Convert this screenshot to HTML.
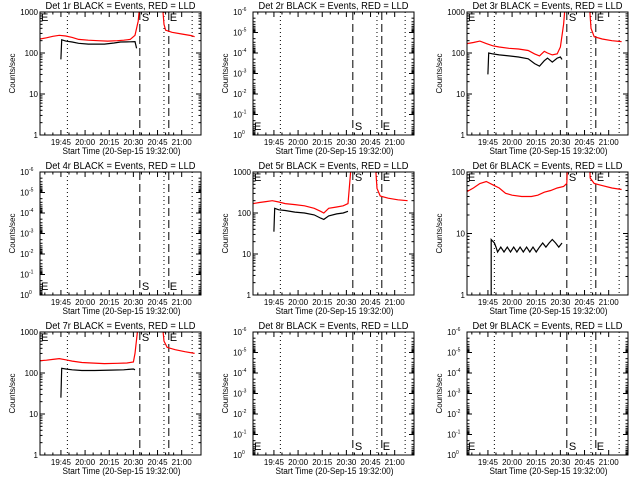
<!DOCTYPE html>
<html><head><meta charset="utf-8">
<style>
html,body{margin:0;padding:0;background:#fff;}
svg{display:block;font-family:"Liberation Sans",sans-serif;}
</style></head>
<body>
<svg id="c" width="640" height="480" viewBox="0 0 640 480"></svg>
<script>
// Data (minutes since 19:32, counts/sec)
const titles=["Det 1r BLACK = Events, RED = LLD","Det 2r BLACK = Events, RED = LLD","Det 3r BLACK = Events, RED = LLD","Det 4r BLACK = Events, RED = LLD","Det 5r BLACK = Events, RED = LLD","Det 6r BLACK = Events, RED = LLD","Det 7r BLACK = Events, RED = LLD","Det 8r BLACK = Events, RED = LLD","Det 9r BLACK = Events, RED = LLD"];
const xTickLabels=["19:45","20:00","20:15","20:30","20:45","21:00"];
const xTickMinutes=[13,28,43,58,73,88];
const xTitle="Start Time (20-Sep-15 19:32:00)";
const yTicksFull=[1,10,100,1000];
const yLabelsFull=["1","10","100","1000"];
const yTicks6=[1,10,100];
const yLabels6=["1","10","100"];
const yTicksEmpty=[1e-6,1e-5,1e-4,1e-3,1e-2,1e-1,1];
const yLabelsEmpty=["-6","-5","-4","-3","-2","-1","0"];
const dottedMinutes=[17,77,94.5];
const dashedMinutes=[62,80];
const red1=[[0,220],[4,235],[8,255],[12,270],[16,260],[20,240],[24,215],[30,205],[36,200],[42,195],[48,200],[52,205],[56,215],[59,270],[61,600],[62,1500],[76,1500],[77,500],[78,360],[82,320],[88,290],[94,265],[96,250]];
const black1=[[13,70],[13.5,210],[16,195],[20,185],[24,172],[30,165],[40,165],[46,175],[50,185],[56,188],[59,190],[60,130]];
const red3=[[0,170],[4,180],[8,195],[12,170],[16,150],[20,140],[26,130],[32,125],[38,115],[42,95],[45,85],[48,110],[50,100],[53,90],[56,95],[58,140],[60,500],[61,1500],[76,1500],[77,400],[79,250],[84,220],[90,200],[96,190]];
const black3=[[13,30],[13.5,100],[16,95],[20,90],[26,85],[32,80],[38,72],[42,55],[45,48],[48,65],[50,75],[53,60],[56,75],[58,80],[59,70]];
const red5=[[0,170],[4,180],[8,190],[12,200],[16,185],[20,170],[26,160],[32,150],[38,130],[42,110],[44,100],[47,130],[52,140],[56,150],[59,170],[60,500],[61,1500],[76,1500],[77,400],[79,260],[84,230],[90,210],[96,200]];
const black5=[[13,35],[13.5,130],[16,120],[20,115],[26,105],[32,100],[38,90],[42,75],[44,70],[47,85],[52,95],[56,100],[59,110]];
const red6=[[0,48],[4,55],[8,65],[12,70],[16,62],[20,55],[24,45],[28,42],[34,40],[40,40],[44,42],[48,47],[52,50],[56,55],[60,58],[62,65],[62.5,150],[76,150],[76.5,80],[79,65],[84,60],[90,55],[96,52]];
const black6=[[15,1],[15,8],[17,7],[18,6],[19,5],[21,6],[23,5],[25,6],[27,5],[29,6],[31,5],[33,6],[35,5],[37,6],[39,5],[41,6],[43,5],[45,6],[47,7],[49,6],[51,7],[53,8],[55,7],[57,6],[59,7]];
const red7=[[0,200],[4,205],[8,215],[12,225],[16,210],[20,195],[26,180],[32,175],[40,170],[48,172],[54,175],[58,185],[59,300],[61,1500],[76,1500],[77,600],[79,420],[84,370],[90,330],[96,300]];
const black7=[[13,25],[13.5,130],[16,125],[20,120],[26,115],[34,115],[44,118],[52,120],[58,125],[59,120]];

const panels=[
 {red:red1,black:black1,type:"full"},{red:null,black:null,type:"empty"},{red:red3,black:black3,type:"full"},
 {red:null,black:null,type:"empty"},{red:red5,black:black5,type:"full"},{red:red6,black:black6,type:"six"},
 {red:red7,black:black7,type:"full"},{red:null,black:null,type:"empty"},{red:null,black:null,type:"empty"}];

const NS="http://www.w3.org/2000/svg";
const svg=document.getElementById('c');
function mk(tag,attrs,parent){const e=document.createElementNS(NS,tag);for(const k in attrs)e.setAttribute(k,attrs[k]);(parent||svg).appendChild(e);return e;}
const L=40,R=201,T=12,B=135,PPM=1.61;

panels.forEach((p,i)=>{
 const ox=Math.round((i%3)*213.33), oy=Math.floor(i/3)*160;
 const g=mk('g',{transform:`translate(${ox},${oy})`});
 
 
 let ticks,labels,lo,hi;
 if(p.type==="full"){ticks=yTicksFull;labels=yLabelsFull;lo=1;hi=1000;}
 else if(p.type==="six"){ticks=yTicks6;labels=yLabels6;lo=1;hi=100;}
 else{ticks=yTicksEmpty;labels=yLabelsEmpty;lo=1e-6;hi=1;}
 const X=m=>L+m*PPM;
 const Y=v=>{let t=(Math.log10(v)-Math.log10(lo))/(Math.log10(hi)-Math.log10(lo));if(p.type==="empty")t=1-t;return B-t*(B-T);};
 // clip
 const cp=mk('clipPath',{id:'cp'+i},g);mk('rect',{x:L,y:T,width:R-L,height:B-T},cp);
 // title
 const tt=mk('text',{x:(L+R)/2,y:9,'text-anchor':'middle','font-size':10,textLength:150,lengthAdjust:'spacingAndGlyphs'},g);
 tt.textContent=titles[i];
 
 
 // y ticks
 ticks.forEach((v,k)=>{
  const y=Y(v);
  mk('line',{x1:L,x2:L+5,y1:y,y2:y,stroke:'#000','stroke-width':1},g);
  mk('line',{x1:R-5,x2:R,y1:y,y2:y,stroke:'#000','stroke-width':1},g);
  if(p.type!=="empty"){
   const t=mk('text',{x:L-2,y:y+3,'text-anchor':'end','font-size':8},g);t.textContent=labels[k];
   
  } else {
   const t=mk('text',{x:L-11,y:y+3,'text-anchor':'end','font-size':8},g);t.textContent="10";
   
   const s=mk('text',{x:L-11,y:y-1,'font-size':5},g);s.textContent=labels[k];
   
  }
  if(k<ticks.length-1){
   const a=p.type==="empty"?v:v, b=ticks[k+1];
   for(let m=2;m<10;m++){const mv=a*m; if(mv>=b)break;const yy=Y(mv);
    mk('line',{x1:L,x2:L+2.5,y1:yy,y2:yy,stroke:'#000'},g);mk('line',{x1:R-2.5,x2:R,y1:yy,y2:yy,stroke:'#000'},g);}
  }
 });
 // x ticks
 xTickMinutes.forEach((m,k)=>{
  const x=X(m);
  mk('line',{x1:x,x2:x,y1:B,y2:B-5,stroke:'#000'},g);mk('line',{x1:x,x2:x,y1:T,y2:T+5,stroke:'#000'},g);
  for(let j=1;j<3;j++){const xm=X(m-5*j);if(xm>L){mk('line',{x1:xm,x2:xm,y1:B,y2:B-2.5,stroke:'#000'},g);mk('line',{x1:xm,x2:xm,y1:T,y2:T+2.5,stroke:'#000'},g);}}
  const t=mk('text',{x:x,y:B+10,'text-anchor':'middle','font-size':8},g);t.textContent=xTickLabels[k];
  
 });
 const xt=mk('text',{x:(L+R)/2+1,y:B+19,'text-anchor':'middle','font-size':9,textLength:118,lengthAdjust:'spacingAndGlyphs'},g);xt.textContent=xTitle;
 
 const yt=mk('text',{x:0,y:0,'text-anchor':'middle','font-size':8,transform:`translate(15,${(T+B)/2}) rotate(-90)`},g);yt.textContent="Counts/sec";
 
 // reference lines
 dottedMinutes.forEach(m=>{const l=mk('line',{x1:X(m),x2:X(m),y1:T,y2:B,stroke:'#000','stroke-dasharray':'1,3'},g);
  });
 dashedMinutes.forEach(m=>{const l=mk('line',{x1:X(m),x2:X(m),y1:T,y2:B,stroke:'#000','stroke-dasharray':'8,4'},g);
  });
 // series
 const pts=arr=>arr.map(d=>`${X(d[0]).toFixed(1)},${Y(d[1]).toFixed(1)}`).join(' ');
 if(p.black){const pl=mk('polyline',{points:pts(p.black),fill:'none',stroke:'#000','stroke-width':1.2,'clip-path':`url(#cp${i})`},g);
  }
 if(p.red){const pl=mk('polyline',{points:pts(p.red),fill:'none',stroke:'#f00','stroke-width':1.2,'clip-path':`url(#cp${i})`},g);
  }
 // S/E labels
 const ly=p.type==="empty"?B-5:T+9;
 [[L+1,"E"],[X(dashedMinutes[0])+2,"S"],[X(dashedMinutes[1])+1,"E"]].forEach(a=>{
  const t=mk('text',{x:a[0],y:ly,'font-size':11},g);t.textContent=a[1];
  });
 // box
 const bx=mk('rect',{x:L,y:T,width:R-L,height:B-T,fill:'none',stroke:'#000','stroke-width':1},g);
 
});
</script>
</body></html>
